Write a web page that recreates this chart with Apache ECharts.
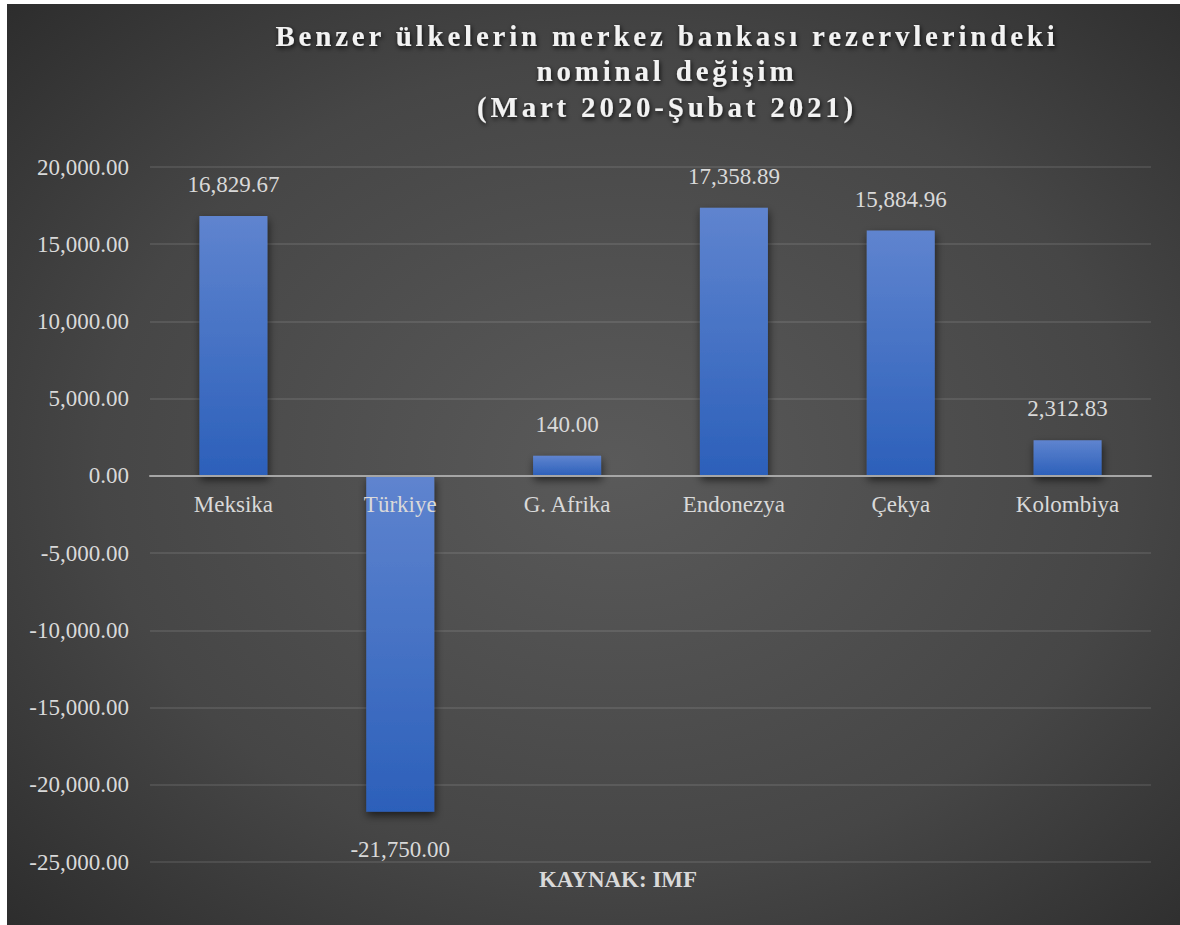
<!DOCTYPE html>
<html>
<head>
<meta charset="utf-8">
<script src="https://cdn.jsdelivr.net/npm/echarts@6/dist/echarts.min.js"></script>
<style>
  html, body { margin: 0; padding: 0; background: #ffffff; }
  #chart { position: absolute; left: 7px; top: 4px; width: 1173px; height: 921px; }
</style>
</head>
<body>
<div id="chart"></div>
<script>
// ---- data ----
const categories = ['Meksika', 'Türkiye', 'G. Afrika', 'Endonezya', 'Çekya', 'Kolombiya'];
// bar heights as drawn in the reference
const values = [16829.67, -21750, 1300, 17358.89, 15884.96, 2312.83];
// data label texts as printed in the reference
const valueLabels = ['16,829.67', '-21,750.00', '140.00', '17,358.89', '15,884.96', '2,312.83'];
const yMin = -25000;
const yMax = 20000;
const yStep = 5000;
const titleLines = ['Benzer ülkelerin merkez bankası rezervlerindeki', 'nominal değişim', '(Mart 2020-Şubat 2021)'];
const sourceText = 'KAYNAK: IMF';

const SERIF = '"Liberation Serif", "Times New Roman", serif';
const chart = echarts.init(document.getElementById('chart'), null, { renderer: 'svg' });

const GRID_TOP = 163, GRID_BOTTOM = 63, CHART_H = 921;
const plotH = CHART_H - GRID_TOP - GRID_BOTTOM;
// distance of the zero line above the plot bottom
const zeroFromBottom = plotH * (0 - yMin) / (yMax - yMin);

const option = {
  animation: false,
  backgroundColor: {
    type: 'radial', x: 0.52, y: 0.5, r: 0.8,
    colorStops: [
      { offset: 0, color: '#5a5a5a' },
      { offset: 0.55, color: '#464646' },
      { offset: 1, color: '#262626' }
    ]
  },
  title: {
    text: titleLines.join('\n'),
    left: 655,
    top: 9,
    textAlign: 'center',
    textStyle: {
      fontFamily: SERIF,
      fontWeight: 'bold',
      fontSize: 29,
      lineHeight: 35.5,
      color: '#f2f2f2',
      textShadowColor: 'rgba(0,0,0,0.85)',
      textShadowBlur: 5,
      textShadowOffsetX: 1,
      textShadowOffsetY: 2
    }
  },
  grid: { left: 143, right: 29, top: GRID_TOP, bottom: GRID_BOTTOM, containLabel: false },
  xAxis: {
    type: 'category',
    data: categories,
    z: 10,
    position: 'bottom',
    offset: -zeroFromBottom,
    axisLine: { show: true, onZero: false, lineStyle: { color: '#a6a6a6', width: 2 } },
    axisTick: { show: false },
    axisLabel: { color: '#d9d9d9', fontFamily: SERIF, fontSize: 23, margin: 17 },
    splitLine: { show: false }
  },
  yAxis: {
    type: 'value',
    min: yMin,
    max: yMax,
    interval: yStep,
    axisLine: { show: false },
    axisTick: { show: false },
    axisLabel: {
      color: '#d9d9d9', fontFamily: SERIF, fontSize: 23, margin: 21,
      formatter: v => v.toLocaleString('en-US', { minimumFractionDigits: 2, maximumFractionDigits: 2 })
    },
    splitLine: { show: true, lineStyle: { color: 'rgba(255,255,255,0.13)', width: 1.5 } }
  },
  series: [{
    type: 'bar',
    barWidth: 68,
    data: values.map(v => ({
      value: v,
      label: { position: v < 0 ? 'bottom' : 'top', distance: v < 0 ? 26 : 20 }
    })),
    itemStyle: {
      color: {
        type: 'linear', x: 0, y: 0, x2: 0, y2: 1,
        colorStops: [
          { offset: 0, color: '#5f84cf' },
          { offset: 1, color: '#2c60ba' }
        ]
      },
      shadowColor: 'rgba(0,0,0,0.6)',
      shadowBlur: 8,
      shadowOffsetX: 1,
      shadowOffsetY: 4
    },
    label: {
      show: true,
      color: '#d9d9d9',
      fontFamily: SERIF,
      fontSize: 23,
      formatter: p => valueLabels[p.dataIndex]
    }
  }],
  graphic: [{
    type: 'text',
    x: 611,
    y: 875,
    style: {
      text: sourceText,
      font: 'bold 23px ' + SERIF,
      fill: '#d9d9d9',
      textAlign: 'center',
      textVerticalAlign: 'middle',
      verticalAlign: 'middle'
    }
  }]
};
chart.setOption(option);

function applySpacing() {
  const texts = document.querySelectorAll('#chart svg text');
  texts.forEach(t => {
    if (titleLines.indexOf(t.textContent) >= 0) {
      t.style.letterSpacing = '3.8px';
    }
  });
}
chart.on('finished', applySpacing);
setTimeout(applySpacing, 50);
setTimeout(applySpacing, 300);
</script>
</body>
</html>
